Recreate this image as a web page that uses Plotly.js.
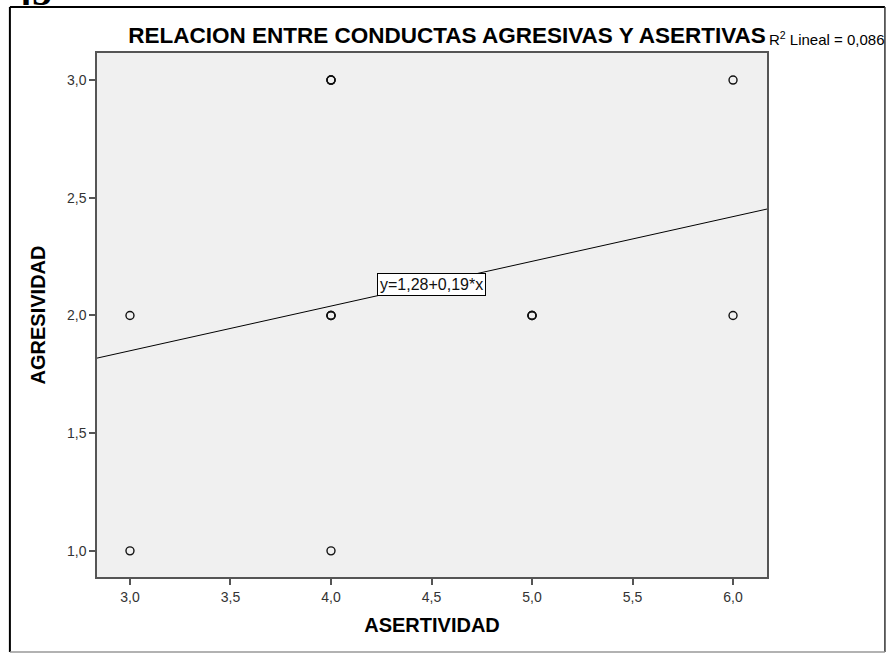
<!DOCTYPE html>
<html>
<head>
<meta charset="utf-8">
<script src="https://cdn.plot.ly/plotly-3.0.1.min.js"></script>
<style>
  html, body { margin: 0; padding: 0; background: #ffffff; }
  #chart { width: 887px; height: 654px; }
</style>
</head>
<body>
<div id="chart"></div>
<script>
// Observations (repeated points draw as heavier circles)
const asertividad = [3, 3, 4, 4, 4, 4, 4, 4, 4, 5, 5, 5, 6, 6];
const agresividad = [1, 2, 1, 2, 2, 2, 3, 3, 3, 2, 2, 2, 2, 3];

// Fitted line shown in the chart
const intercept = 1.28;
const slope = 0.19;
const r2Label = 'R<sup>2</sup> Lineal = 0,086';
const fitLabel = 'y=1,28+0,19*x';

const xRange = [2.836, 6.169];
const yRange = [0.889, 3.115];

const xTicks = [3.0, 3.5, 4.0, 4.5, 5.0, 5.5, 6.0];
const yTicks = [1.0, 1.5, 2.0, 2.5, 3.0];

const fitX = xRange.slice();
const fitY = fitX.map(x => intercept + slope * x);

Plotly.newPlot('chart', [
  {
    x: fitX,
    y: fitY,
    type: 'scatter',
    mode: 'lines',
    line: { color: '#000000', width: 1 },
    hoverinfo: 'skip',
  },
  {
    x: asertividad,
    y: agresividad,
    type: 'scatter',
    mode: 'markers',
    marker: { symbol: 'circle-open', size: 8, color: '#111111', line: { width: 1.4 } },
  },
], {
  width: 887,
  height: 654,
  showlegend: false,
  separators: ',.',
  font: { family: 'Liberation Sans, Arial, sans-serif', color: '#333333', size: 14 },
  title: {
    text: '<b>RELACION ENTRE CONDUCTAS AGRESIVAS Y ASERTIVAS</b>',
    font: { size: 22.5, color: '#000000' },
    x: 447 / 887, xanchor: 'center', xref: 'container',
    y: 1 - 35 / 654, yanchor: 'middle',
  },
  xaxis: {
    range: xRange,
    tickvals: xTicks,
    tickformat: '.1f',
    ticks: 'outside', ticklen: 6, tickwidth: 2, tickcolor: '#555555',
    showgrid: false, zeroline: false,
    showline: true, linecolor: '#555555', linewidth: 1.5, mirror: true,
    title: { text: '<b>ASERTIVIDAD</b>', font: { size: 20, color: '#000000' }, standoff: 14 },
  },
  yaxis: {
    range: yRange,
    tickvals: yTicks,
    tickformat: '.1f',
    ticks: 'outside', ticklen: 6, tickwidth: 2, tickcolor: '#555555',
    showgrid: false, zeroline: false,
    showline: true, linecolor: '#555555', linewidth: 1.5, mirror: true,
    title: { text: '<b>AGRESIVIDAD</b>', font: { size: 20, color: '#000000' }, standoff: 16 },
  },
  annotations: [
    {
      x: 4.5, y: 2.13, xref: 'x', yref: 'y',
      text: fitLabel, showarrow: false,
      font: { size: 16, color: '#111111' },
      bgcolor: '#ffffff', bordercolor: '#000000', borderwidth: 1, borderpad: 2,
    },
    {
      x: 1.0, y: 1.0286, xref: 'paper', yref: 'paper',
      xanchor: 'left', yanchor: 'middle',
      text: r2Label, showarrow: false,
      font: { size: 15, color: '#000000' },
    },
    {
      x: -0.13, y: 1.1183, xref: 'paper', yref: 'paper',
      xanchor: 'left', yanchor: 'middle',
      text: '<b>45</b>', showarrow: false,
      font: { size: 40, color: '#000000', family: 'Liberation Serif, serif' },
    },
  ],
  shapes: [
    { type: 'line', xref: 'paper', yref: 'paper', x0: -0.13, x1: 1.176, y0: 1.0878, y1: 1.0878, line: { color: '#000000', width: 2 } },
    { type: 'line', xref: 'paper', yref: 'paper', x0: -0.13, x1: -0.13, y0: 1.0878, y1: -0.1431, line: { color: '#000000', width: 2 } },
    { type: 'line', xref: 'paper', yref: 'paper', x0: 1.176, x1: 1.176, y0: 1.0878, y1: -0.1431, line: { color: '#333333', width: 1.5 } },
    { type: 'line', xref: 'paper', yref: 'paper', x0: -0.13, x1: 1.176, y0: -0.1431, y1: -0.1431, line: { color: '#999999', width: 1.5 } },
  ],
  margin: { l: 97, r: 120, t: 53, b: 77 },
  paper_bgcolor: '#ffffff',
  plot_bgcolor: '#f0f0f0',
}, { displayModeBar: false });
</script>
</body>
</html>
